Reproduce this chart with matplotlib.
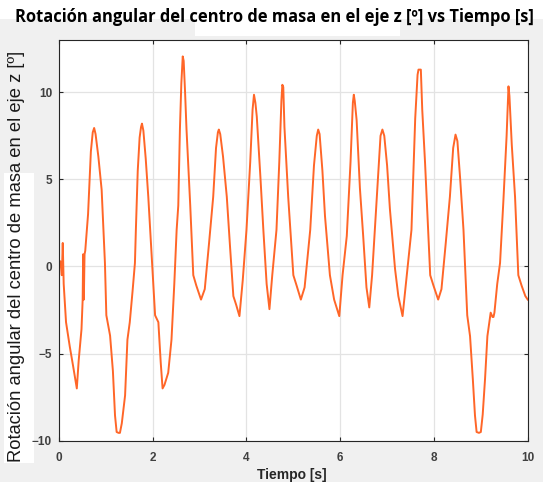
import matplotlib
matplotlib.use("Agg")
import matplotlib.pyplot as plt
from matplotlib.patches import Rectangle

# tiempo [s] y rotación [º]
tiempo = [0, 0.03, 0.06, 0.08, 0.10, 0.15, 0.23, 0.30, 0.36, 0.38, 0.42, 0.48, 0.505, 0.515, 0.53, 0.545, 0.56,
          0.62, 0.68, 0.72, 0.75, 0.78, 0.84, 0.91, 0.98,
          1.01, 1.09, 1.15, 1.195, 1.23, 1.27, 1.30, 1.34, 1.41, 1.46, 1.51, 1.57, 1.62,
          1.64, 1.68, 1.72, 1.75, 1.77, 1.80, 1.85, 1.905, 1.98, 2.05,
          2.12, 2.17, 2.21, 2.25, 2.33, 2.40, 2.46, 2.51, 2.545,
          2.58, 2.61, 2.64, 2.66, 2.69, 2.72, 2.80, 2.865, 2.93, 3.03, 3.11, 3.20,
          3.29, 3.35, 3.39, 3.41, 3.44, 3.50, 3.58, 3.65, 3.72, 3.78, 3.85, 3.92,
          4.0, 4.08, 4.13, 4.16, 4.19, 4.22, 4.30, 4.36, 4.43, 4.49, 4.55, 4.64,
          4.70, 4.745, 4.765, 4.785, 4.81, 4.89, 5.0, 5.07, 5.16, 5.24, 5.36,
          5.44, 5.50, 5.53, 5.56, 5.62, 5.675, 5.78, 5.87, 5.98, 6.05, 6.14,
          6.22, 6.27, 6.29, 6.31, 6.35, 6.42, 6.49, 6.56, 6.62, 6.68, 6.78,
          6.86, 6.90, 6.94, 7.00, 7.06, 7.17, 7.24, 7.33, 7.42, 7.52,
          7.60, 7.65, 7.67, 7.72, 7.75, 7.81, 7.92, 7.99, 8.09, 8.16, 8.25, 8.34,
          8.41, 8.46, 8.50, 8.56, 8.63, 8.71, 8.77, 8.83, 8.875, 8.91, 8.96, 9.0,
          9.04, 9.09, 9.14, 9.21, 9.25, 9.27, 9.29, 9.35, 9.41, 9.48, 9.55, 9.59, 9.61, 9.66, 9.73, 9.80, 9.87, 9.95, 10.0]

rotacion = [0.2, 0.3, -0.5, 1.35, -1.0, -3.2, -4.6, -5.7, -6.7, -7.0, -5.4, -3.6, -1.9, 0.7, -1.9, 0.7, 0.9,
            3.0, 6.6, 7.7, 7.95, 7.6, 6.3, 4.4, 0.2,
            -2.8, -3.97, -6.0, -8.55, -9.5, -9.55, -9.55, -9.0, -7.4, -4.2, -3.2, -1.4, 0.2,
            2.1, 5.5, 7.4, 8.0, 8.2, 7.8, 6.2, 4.0, 0.5, -2.8,
            -3.2, -5.5, -7.0, -6.8, -6.1, -4.2, -1.0, 2.1, 3.5,
            7.9, 10.5, 12.06, 11.8, 10.0, 7.9, 3.5, -0.5, -1.1, -1.9, -1.3, 1.3,
            4.0, 6.8, 7.7, 7.86, 7.6, 6.3, 4.0, 1.1, -1.7, -2.2, -2.85, -0.8,
            2.1, 6.0, 9.0, 9.86, 9.4, 8.6, 5.0, 2.1, -1.0, -2.45, -0.5, 2.1,
            6.0, 9.5, 10.43, 10.3, 8.0, 4.0, -0.5, -1.1, -1.9, -1.2, 2.1,
            5.8, 7.5, 7.86, 7.6, 5.5, 2.9, -0.5, -1.9, -2.85, -0.5, 1.75,
            6.0, 9.4, 9.86, 9.5, 8.4, 4.5, 1.75, -1.2, -2.35, -0.5, 4.0,
            7.5, 7.86, 7.5, 5.8, 3.3, -0.15, -1.7, -2.85, -0.5, 2.1,
            8.5, 11.0, 11.3, 11.3, 9.0, 5.95, -0.5, -1.1, -1.9, -1.3, 1.3, 4.0,
            6.8, 7.57, 7.2, 5.0, 2.1, -2.8, -4.0, -6.5, -8.55, -9.5, -9.55, -9.5,
            -8.5, -6.45, -4.0, -2.65, -2.9, -2.9, -2.65, -1.0, 0.2, 3.7, 7.5, 10.34, 9.8, 7.0, 4.0, -0.5, -1.1, -1.7, -1.9]

x_ticks = [0, 2, 4, 6, 8, 10]
y_ticks = [-10, -5, 0, 5, 10]

fig = plt.figure(figsize=(5.43, 4.82), dpi=100, facecolor='#f0f0f0')

# fondos blancos del recorte original
for (x0, y0, w, h) in [(0, 0, 543, 19), (195, 19, 205, 17), (4, 173, 30, 290)]:
    fig.patches.append(Rectangle((x0 / 543, 1 - (y0 + h) / 482), w / 543, h / 482,
                                 transform=fig.transFigure, facecolor='white',
                                 edgecolor='none', zorder=-5))

ax = fig.add_axes([59 / 543, 1 - 440.7 / 482, (527.7 - 59) / 543, (440.7 - 40) / 482])
ax.set_facecolor('white')
ax.plot(tiempo, rotacion, color='#ff6628', linewidth=1.4)

ax.set_xlim(0, 10)
ax.set_ylim(-10, 13)
ax.set_xticks(x_ticks)
ax.set_yticks(y_ticks)
ax.grid(True, color='#e3e3e3', linewidth=0.9)
ax.set_axisbelow(True)
ax.tick_params(direction='in', top=True, right=True, length=3, width=0.8, color='#262626',
               labelsize=8.5, labelcolor='#404040')
ax.tick_params(axis='x', pad=8)
ax.tick_params(axis='y', pad=5)
for lab in ax.get_xticklabels() + ax.get_yticklabels():
    lab.set_fontweight('bold')
    lab.set_family('Liberation Sans')
for s in ax.spines.values():
    s.set_color('#262626')
    s.set_linewidth(0.8)

fig.text(0.5055, 1 - 17 / 482, 'Rotación angular del centro de masa en el eje z [º] vs Tiempo [s]',
         ha='center', va='center', fontsize=11.9, fontweight='bold', family='Open Sans', color='black')
fig.text(17 / 543, 1 - 256 / 482, 'Rotación angular del centro de masa en el eje z [º]',
         rotation=90, ha='center', va='center', fontsize=13.2, family='Liberation Sans', color='#1a1a1a')
fig.text(292 / 543, 1 - 468 / 482, 'Tiempo [s]', ha='center', va='top', fontsize=10,
         fontweight='bold', family='Liberation Sans', color='#262626')

fig.savefig('out.png', dpi=100, facecolor=fig.get_facecolor())
